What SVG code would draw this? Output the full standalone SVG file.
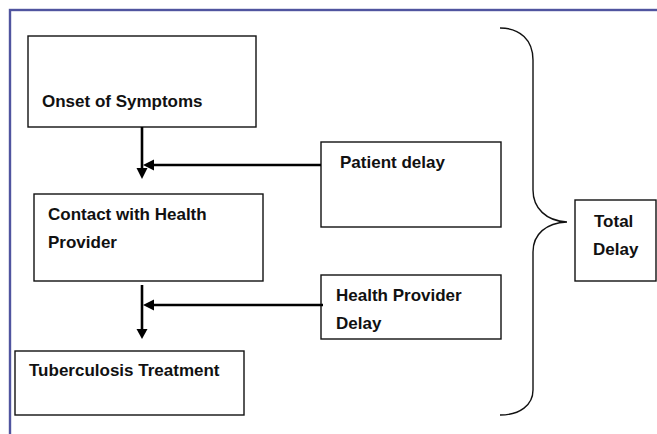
<svg xmlns="http://www.w3.org/2000/svg" width="657" height="434" viewBox="0 0 657 434">
<style>
.box{fill:#fff;stroke:#111;stroke-width:1.4}
.t{font-family:"Liberation Sans",Arial,sans-serif;font-weight:bold;font-size:17px;fill:#111}
.ln{stroke:#000;stroke-width:2.6;fill:none}
.hd{fill:#000}
</style>
<rect x="0" y="0" width="657" height="434" fill="#fff"/>
<rect x="10" y="10" width="720" height="500" fill="none" stroke="#50549F" stroke-width="2.4"/>
<g id="onset"><rect class="box" x="28" y="36" width="228" height="91"/><text class="t" x="42" y="107">Onset of Symptoms</text></g>
<g id="contact"><rect class="box" x="34" y="194" width="229" height="87"/><text class="t" x="48" y="220">Contact with Health</text><text class="t" x="48" y="248">Provider</text></g>
<g id="treatment"><rect class="box" x="15" y="351" width="229" height="64"/><text class="t" x="29" y="376">Tuberculosis Treatment</text></g>
<g id="patient-delay"><rect class="box" x="321" y="142" width="180" height="85"/><text class="t" x="340" y="168">Patient delay</text></g>
<g id="provider-delay"><rect class="box" x="321" y="275" width="180" height="64"/><text class="t" x="336" y="301">Health Provider</text><text class="t" x="336" y="329">Delay</text></g>
<g id="total-delay"><rect class="box" x="575" y="200" width="81" height="81"/><text class="t" x="594" y="227">Total</text><text class="t" x="593" y="255">Delay</text></g>
<g id="connectors">
<line class="ln" x1="142" y1="127" x2="142" y2="169"/><polygon class="hd" points="136.5,168 147.5,168 142,179"/>
<line class="ln" x1="321" y1="165" x2="152" y2="165"/><polygon class="hd" points="143,165 154,159.5 154,170.5"/>
<line class="ln" x1="142" y1="285" x2="142" y2="330"/><polygon class="hd" points="136.5,329 147.5,329 142,339"/>
<line class="ln" x1="323" y1="305" x2="152" y2="305"/><polygon class="hd" points="143,305 154,299.5 154,310.5"/>
<path d="M500,28 C520,28 533,40 533,60 L533,190 C533,208 546,221 567,222 C546,223 533,234 533,252 L533,390 C533,405 520,415 500,415" fill="none" stroke="#111" stroke-width="1.4"/>
</g>
</svg>
